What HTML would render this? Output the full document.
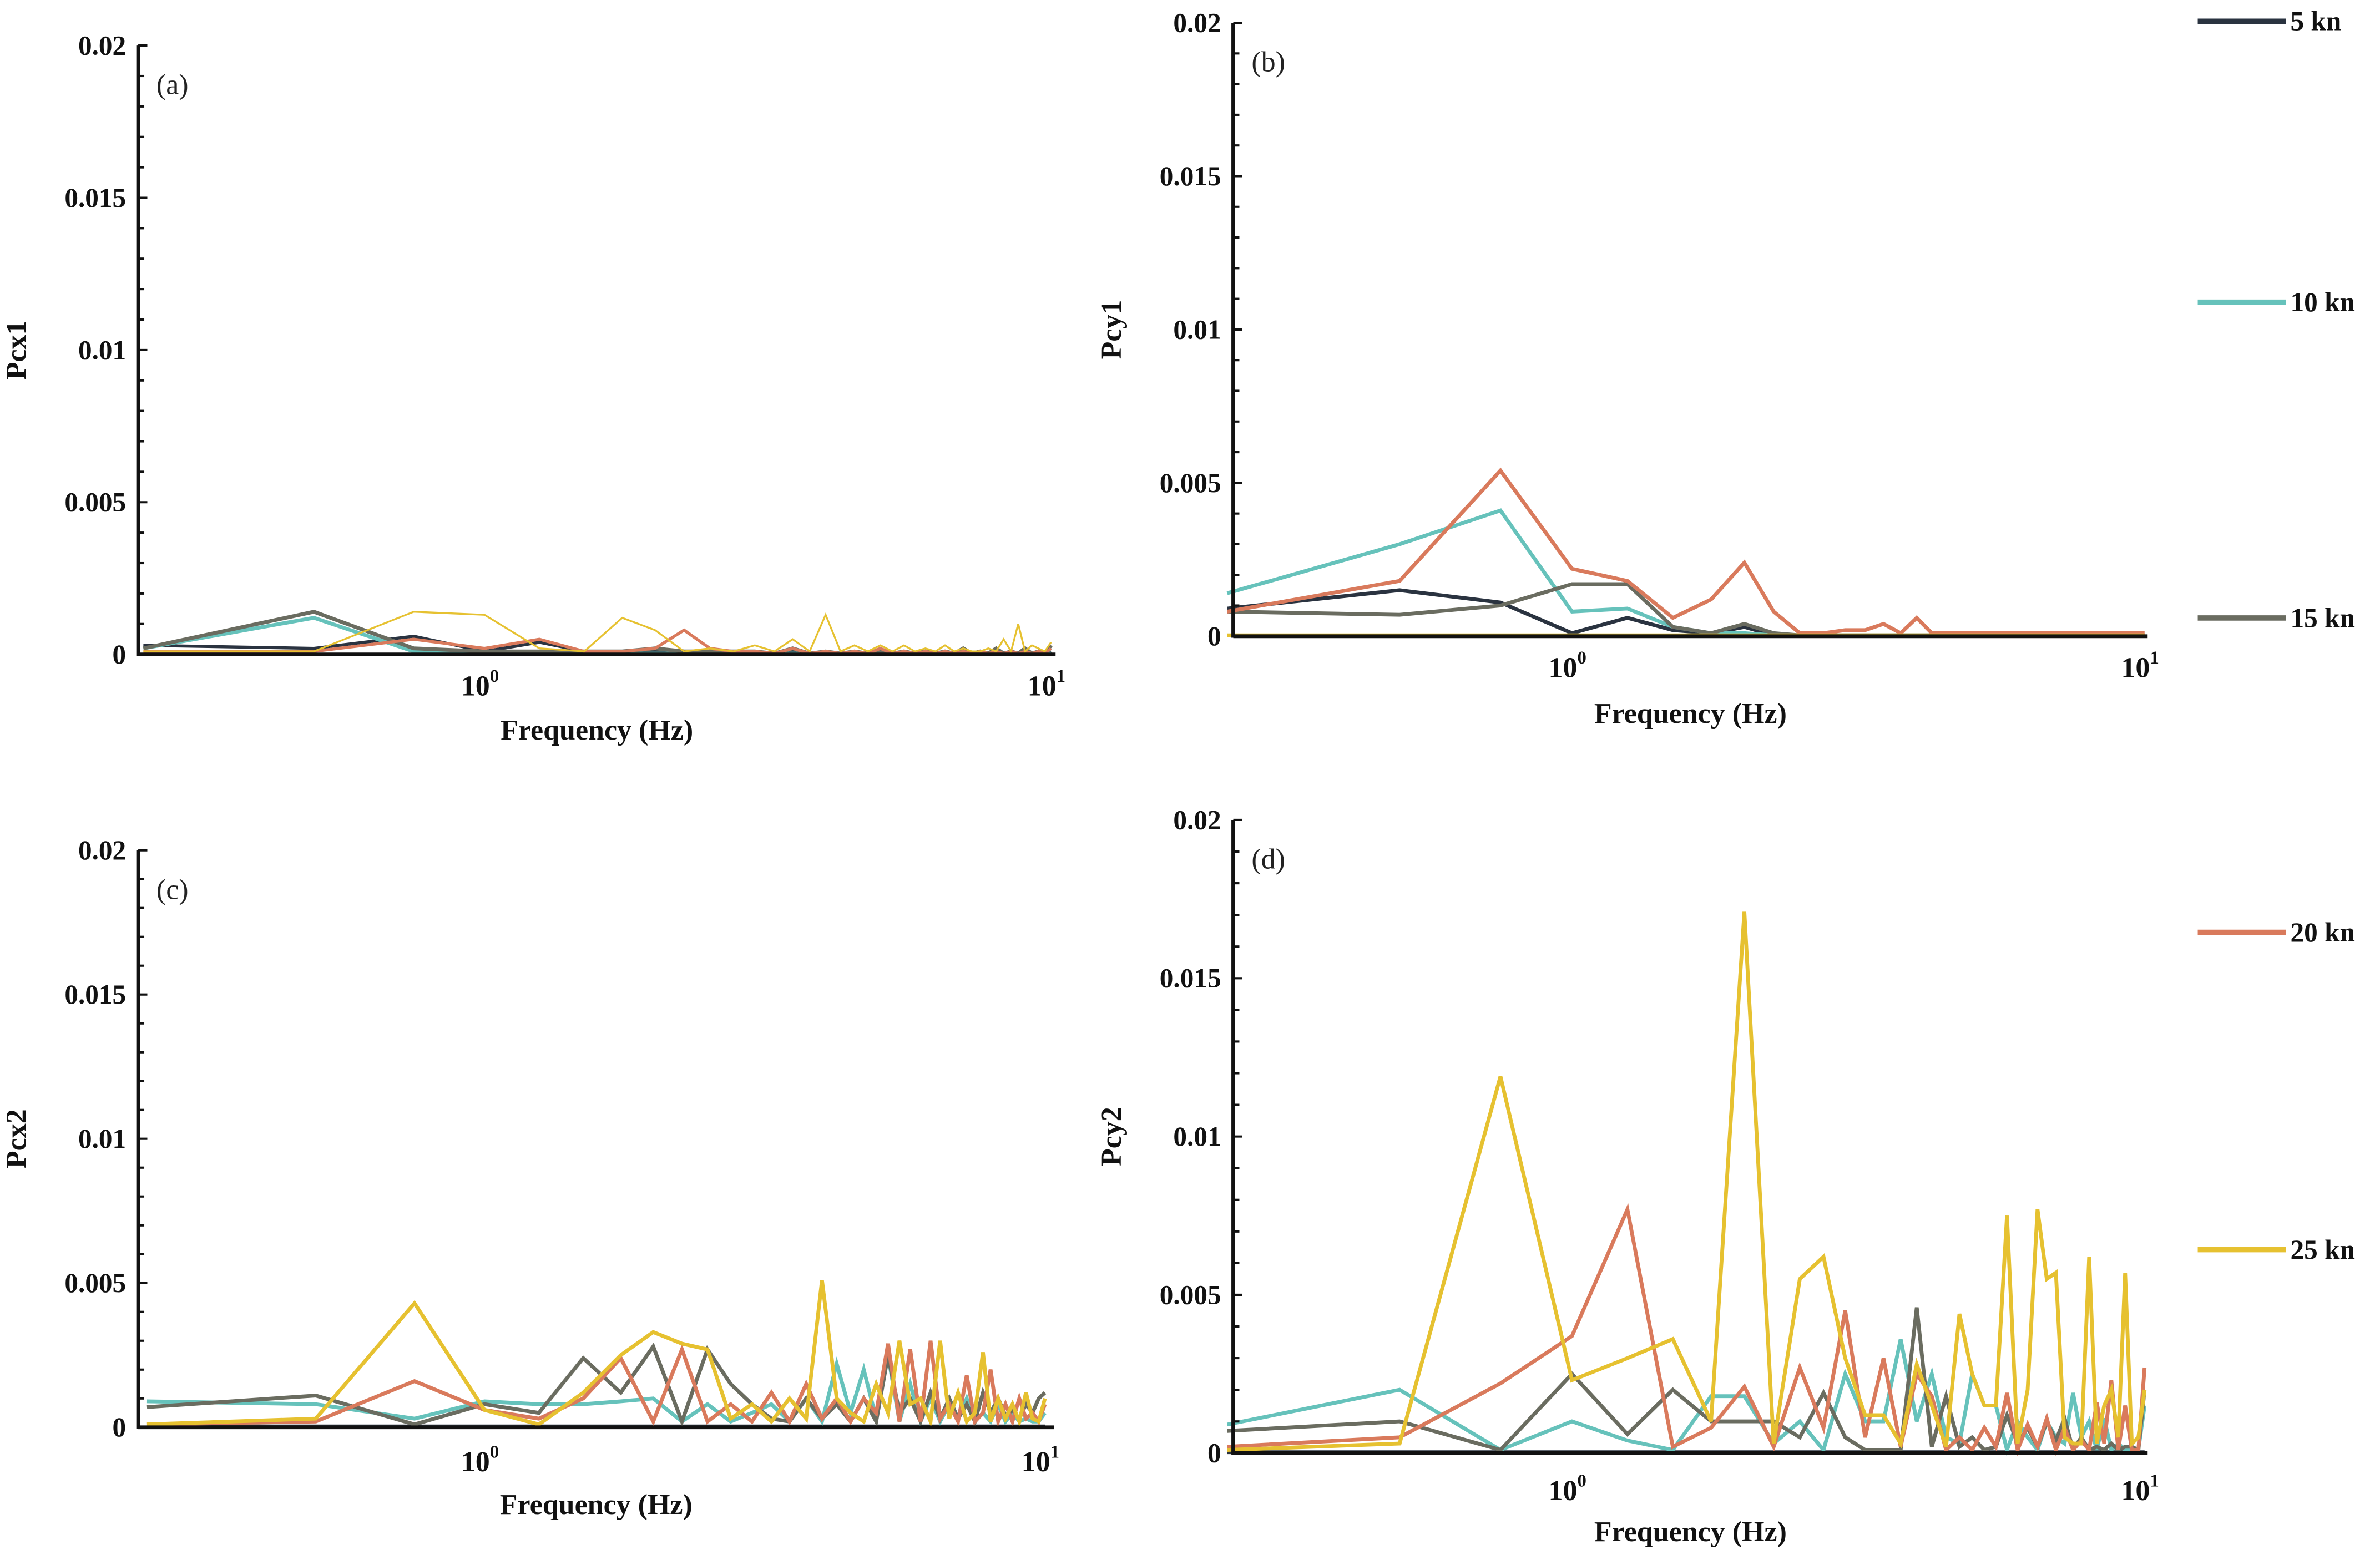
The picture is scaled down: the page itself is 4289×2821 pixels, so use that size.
<!DOCTYPE html>
<html><head><meta charset="utf-8"><style>
html,body{margin:0;padding:0;background:#fff;}
svg{display:block;}
text{font-family:"Liberation Serif",serif;}
</style></head><body>
<svg id="chart" width="4289" height="2821" viewBox="0 0 1567 1030.7" preserveAspectRatio="none" xmlns="http://www.w3.org/2000/svg"></svg>
<script>
const freqs = Array.from({length:40},(_,i)=>(i+1)*0.25);
const seriesNames = ["5 kn","10 kn","15 kn","20 kn","25 kn"];
const yTicks = [0,0.005,0.01,0.015,0.02];
const yTickLabels = ["0","0.005","0.01","0.015","0.02"];
const xTicks = [1,10];
const xTickExp = ["0","1"];
const z = 0.00003;
// Panel (a) Pcx1
const a5  = [0.0003,0.0002,0.0006,0.0001,0.0004,0.0001,z,0.0001,z,z,z,z,z,0.0001,z,z,z,z,z,z,z,z,z,z,z,z,z,z,z,z,z,z,z,z,z,z,z,z,z,0.0001];
const a10 = [0.0002,0.0012,0.0001,0.0001,z,z,z,z,z,z,z,z,z,z,z,z,z,z,z,z,z,z,z,z,z,z,z,z,z,z,z,z,z,z,z,z,z,z,z,z];
const a15 = [0.0002,0.0014,0.0002,0.0001,0.0001,0.0001,0.0001,0.0002,0.0001,0.0001,0.0001,0.0001,z,0.0002,z,0.0001,z,0.0001,z,0.0001,z,0.0001,z,0.0001,z,0.0001,z,0.0002,z,0.0001,z,0.0002,z,0.0001,z,0.0002,z,0.0001,z,0.0003];
const a20 = [0.0001,0.0001,0.0005,0.0002,0.0005,0.0001,0.0001,0.0002,0.0008,0.0002,0.0001,0.0001,z,0.0002,z,0.0001,z,0.0001,z,0.0002,z,0.0001,z,0.0001,z,0.0001,z,0.0001,z,0.0001,z,0.0001,z,0.0001,z,0.0001,z,0.0001,z,0.0002];
const a25 = [0.0001,0.0001,0.0014,0.0013,0.0002,0.0001,0.0012,0.0008,0.0001,0.0002,0.0001,0.0003,0.0001,0.0005,0.0001,0.0013,0.0001,0.0003,0.0001,0.0003,0.0001,0.0003,0.0001,0.0002,0.0001,0.0003,0.0001,0.0002,0.0001,0.0001,0.0002,0.0001,0.0005,0.0001,0.0010,0.0001,0.0003,0.0002,0.0001,0.0004];
// Panel (b) Pcy1
const b5  = [0.0009,0.0015,0.0011,0.0001,0.0006,0.0002,0.0001,0.0003,z,z,z,z,z,z,z,z,z,z,z,z,z,z,z,z,z,z,z,z,z,z,z,z,z,z,z,z,z,z,z,z];
const b10 = [0.0014,0.0030,0.0041,0.0008,0.0009,0.0003,0.0001,0.0001,z,z,z,z,z,z,z,z,z,z,z,z,z,z,z,z,z,z,z,z,z,z,z,z,z,z,z,z,z,z,z,z];
const b15 = [0.0008,0.0007,0.0010,0.0017,0.0017,0.0003,0.0001,0.0004,0.0001,z,z,z,z,z,z,z,z,z,z,z,z,z,z,z,z,z,z,z,z,z,z,z,z,z,z,z,z,z,z,z];
const b20 = [0.0008,0.0018,0.0054,0.0022,0.0018,0.0006,0.0012,0.0024,0.0008,0.0001,0.0001,0.0002,0.0002,0.0004,0.0001,0.0006,0.0001,0.0001,0.0001,0.0001,0.0001,0.0001,0.0001,0.0001,0.0001,0.0001,0.0001,0.0001,0.0001,0.0001,0.0001,0.0001,0.0001,0.0001,0.0001,0.0001,0.0001,0.0001,0.0001,0.0001];
const b25 = [z,z,z,z,z,z,z,z,z,z,z,z,z,z,z,z,z,z,z,z,z,z,z,z,z,z,z,z,z,z,z,z,z,z,z,z,z,z,z,z];
// Panel (c) Pcx2
const c5  = [z,z,z,z,z,z,z,z,z,z,z,z,z,z,z,z,z,z,z,z,z,z,z,z,z,z,z,z,z,z,z,z,z,z,z,z,z,z,z,z];
const c10 = [0.0009,0.0008,0.0003,0.0009,0.0008,0.0008,0.0009,0.0010,0.0002,0.0008,0.0002,0.0005,0.0008,0.0002,0.0010,0.0002,0.0022,0.0005,0.0020,0.0003,0.0025,0.0002,0.0015,0.0002,0.0010,0.0002,0.0008,0.0003,0.0010,0.0002,0.0005,0.0002,0.0008,0.0002,0.0005,0.0002,0.0003,0.0002,0.0002,0.0005];
const c15 = [0.0007,0.0011,0.0001,0.0008,0.0005,0.0024,0.0012,0.0028,0.0002,0.0027,0.0015,0.0008,0.0003,0.0002,0.0010,0.0003,0.0008,0.0002,0.0010,0.0002,0.0025,0.0005,0.0010,0.0002,0.0012,0.0003,0.0010,0.0003,0.0008,0.0002,0.0012,0.0005,0.0010,0.0004,0.0006,0.0003,0.0008,0.0005,0.0010,0.0012];
const c20 = [0.0001,0.0002,0.0016,0.0006,0.0003,0.0010,0.0024,0.0002,0.0027,0.0002,0.0008,0.0002,0.0012,0.0002,0.0015,0.0003,0.0010,0.0002,0.0010,0.0005,0.0029,0.0002,0.0027,0.0002,0.0030,0.0003,0.0008,0.0002,0.0018,0.0002,0.0005,0.0020,0.0002,0.0008,0.0002,0.0010,0.0003,0.0005,0.0002,0.0008];
const c25 = [0.0001,0.0003,0.0043,0.0006,0.0001,0.0012,0.0025,0.0033,0.0029,0.0027,0.0003,0.0008,0.0002,0.0010,0.0003,0.0051,0.0010,0.0005,0.0002,0.0015,0.0005,0.0030,0.0008,0.0010,0.0002,0.0030,0.0003,0.0012,0.0002,0.0005,0.0026,0.0002,0.0010,0.0003,0.0008,0.0002,0.0012,0.0003,0.0002,0.0010];
// Panel (d) Pcy2
const d5  = [z,z,z,z,z,z,z,z,z,z,z,z,z,z,z,z,z,z,z,z,z,z,z,z,z,z,z,z,z,z,z,z,z,z,z,z,z,z,z,z];
const d10 = [0.0009,0.0020,0.0001,0.0010,0.0004,0.0001,0.0018,0.0018,0.0003,0.0010,0.0001,0.0025,0.0010,0.0010,0.0036,0.0010,0.0025,0.0005,0.0003,0.0025,0.0015,0.0015,0.0001,0.0010,0.0005,0.0001,0.0010,0.0005,0.0003,0.0019,0.0005,0.0010,0.0001,0.0011,0.0001,0.0003,0.0001,0.0001,0.0001,0.0015];
const d15 = [0.0007,0.0010,0.0001,0.0025,0.0006,0.0020,0.0010,0.0010,0.0010,0.0005,0.0019,0.0005,0.0001,0.0001,0.0001,0.0046,0.0002,0.0018,0.0002,0.0005,0.0001,0.0002,0.0012,0.0003,0.0008,0.0002,0.0010,0.0004,0.0011,0.0001,0.0005,0.0001,0.0002,0.0001,0.0003,0.0001,0.0002,0.0002,0.0001,0.0020];
const d20 = [0.0002,0.0005,0.0022,0.0037,0.0077,0.0002,0.0008,0.0021,0.0002,0.0027,0.0008,0.0045,0.0005,0.0030,0.0002,0.0025,0.0018,0.0001,0.0005,0.0001,0.0008,0.0002,0.0019,0.0001,0.0009,0.0002,0.0011,0.0001,0.0008,0.0001,0.0004,0.0001,0.0016,0.0003,0.0023,0.0001,0.0015,0.0001,0.0001,0.0027];
const d25 = [0.0001,0.0003,0.0119,0.0023,0.0030,0.0036,0.0010,0.0171,0.0003,0.0055,0.0062,0.0030,0.0012,0.0012,0.0003,0.0028,0.0015,0.0002,0.0044,0.0025,0.0015,0.0015,0.0075,0.0003,0.0020,0.0077,0.0055,0.0057,0.0005,0.0003,0.0003,0.0062,0.0003,0.0015,0.0020,0.0005,0.0057,0.0003,0.0005,0.0020];

const colors = ["#2a3340","#66c2bb","#6a6c60","#d97a5c","#e6c130"];
const NS="http://www.w3.org/2000/svg";
const svg=document.getElementById('chart');
function el(tag,attrs,parent){const e=document.createElementNS(NS,tag);for(const k in attrs)e.setAttribute(k,attrs[k]);(parent||svg).appendChild(e);return e;}

const panels=[
 {id:'a',label:'(a)',ylab:'Pcx1',ax:91,top:30,zero:431,x0:319,x1:692,xend:695,tickY:458,labY:487,data:[a5,a10,a15,a20,a25],lw:[2,2.5,2.5,2,1.2]},
 {id:'b',label:'(b)',ylab:'Pcy1',ax:812,top:15,zero:419,x0:1035,x1:1412,xend:1414,tickY:446,labY:476,data:[b5,b10,b15,b20,b25],lw:[2.5,2.5,2.5,2.5,2.5]},
 {id:'c',label:'(c)',ylab:'Pcx2',ax:91,top:560,zero:940,x0:319,x1:688,xend:694,tickY:969,labY:997,data:[c5,c10,c15,c20,c25],lw:[2.5,2.5,2.5,2.5,2.5]},
 {id:'d',label:'(d)',ylab:'Pcy2',ax:812,top:540,zero:957,x0:1035,x1:1412,xend:1414,tickY:988,labY:1015,data:[d5,d10,d15,d20,d25],lw:[2.5,2.5,2.5,2.5,2.5]}
];

panels.forEach(p=>{
  const g=el('g',{});
  
  
  const xs=f=>p.x0+(p.x1-p.x0)*Math.log10(f);
  const ys=v=>p.zero-(p.zero-p.top)*v/0.02;
  p.data.forEach((arr,si)=>{
    const pts=arr.map((v,i)=>xs(freqs[i]).toFixed(1)+','+ys(v).toFixed(1)).join(' ');
    const pl=el('polyline',{points:pts,fill:'none',stroke:colors[si],'stroke-width':p.lw[si],'stroke-linejoin':'miter'},g);
    
    
  });
  const ya=el('line',{x1:p.ax,y1:p.top,x2:p.ax,y2:p.zero+1,stroke:'#111','stroke-width':2.5},g);
  
  
  const xa=el('line',{x1:p.ax,y1:p.zero,x2:p.xend,y2:p.zero,stroke:'#111','stroke-width':2.5},g);
  
  
  for(let v=0;v<=0.02001;v+=0.001){
    const major=Math.abs(v/0.005-Math.round(v/0.005))<1e-6;
    el('line',{x1:p.ax,y1:ys(v),x2:p.ax+(major?6:4),y2:ys(v),stroke:'#111','stroke-width':1.5},g);
  }
  yTicks.forEach((v,i)=>{
    const t=el('text',{x:p.ax-8,y:ys(v)+6,'text-anchor':'end','font-size':18,'font-weight':'bold',fill:'#111'},g);
    t.textContent=yTickLabels[i];
    
    
  });
  xTicks.forEach((f,i)=>{
    const t=el('text',{x:xs(f)-3,y:p.tickY,'text-anchor':'middle','font-size':19,'font-weight':'bold',fill:'#111'},g);
    t.textContent='10';
    const s=el('tspan',{dy:-9,'font-size':12},t);
    s.textContent=xTickExp[i];
    
    
  });
  const xl=el('text',{x:(p.ax+p.xend)/2,y:p.labY,'text-anchor':'middle','font-size':19,'font-weight':'bold',fill:'#111'},g);
  xl.textContent='Frequency (Hz)';
  
  
  const cy=(p.top+p.zero)/2, cx=p.ax-74;
  const yl=el('text',{x:cx,y:cy,'text-anchor':'middle','font-size':19,'font-weight':'bold',fill:'#111',transform:`rotate(-90 ${cx} ${cy})`},g);
  yl.textContent=p.ylab;
  
  
  const pl=el('text',{x:p.ax+12,y:p.top+32,'font-size':19,fill:'#222','font-family':'Liberation Sans, sans-serif'},g);
  pl.textContent=p.label;
  
  
});

const legY=[14,199,407,614,823];
seriesNames.forEach((n,i)=>{
  const g=el('g',{});
  
  
  el('line',{x1:1447,y1:legY[i],x2:1505,y2:legY[i],stroke:colors[i],'stroke-width':3.5},g);
  const t=el('text',{x:1508,y:legY[i]+6,'font-size':18,'font-weight':'bold',fill:'#111'},g);
  t.textContent=n;
});
</script>
</body></html>
